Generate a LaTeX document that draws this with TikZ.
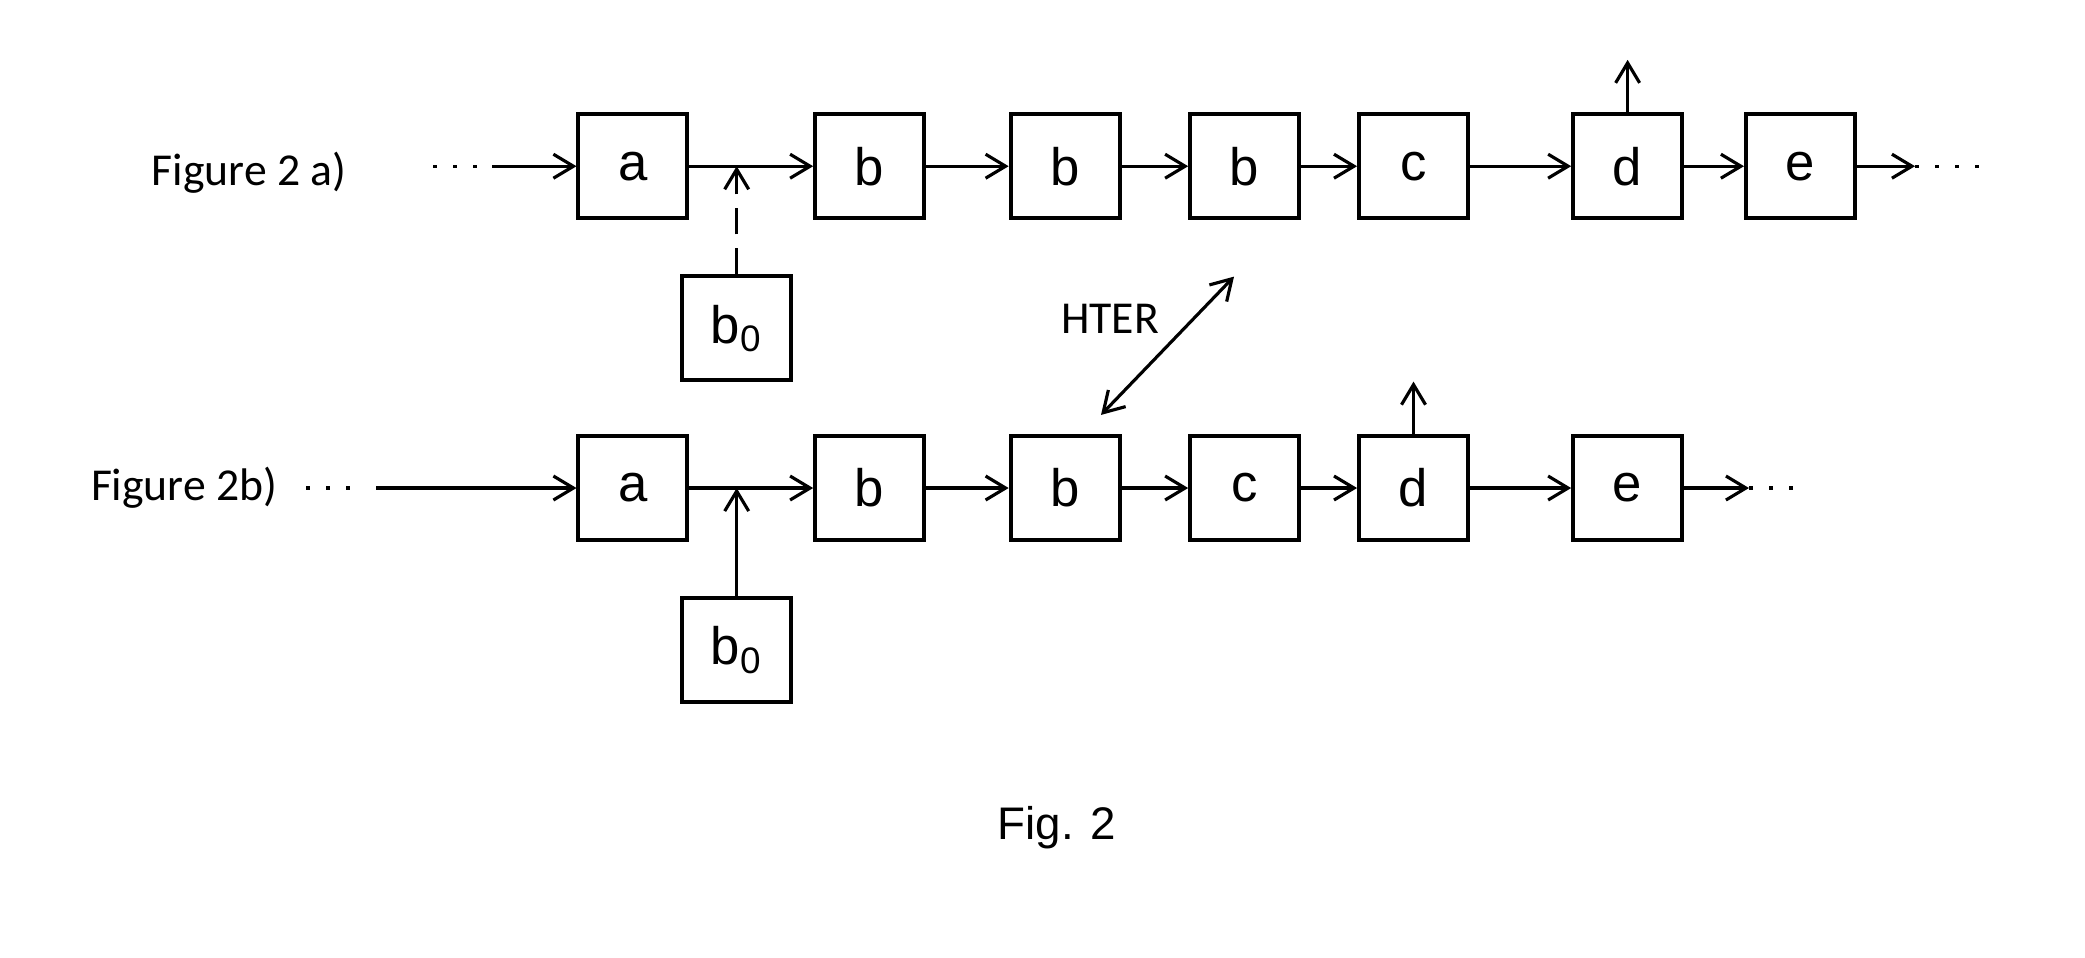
\documentclass[tikz,border=0pt]{standalone}
\usepackage{fontspec}
\setmainfont{Liberation Sans}
\newfontfamily\carlito{Carlito}
\usetikzlibrary{arrows.meta}

\tikzset{
  blk/.style={draw,line width=1.1pt,minimum width=1.09cm,minimum height=1.04cm,inner sep=0pt,font=\fontsize{15}{18}\selectfont},
  lbl/.style={font=\carlito\fontsize{13}{16}\selectfont,inner sep=0pt},
  lead/.style={line width=0.9pt,dash pattern=on 1.2pt off 4.5pt},
}

\begin{document}
\begin{tikzpicture}[>={Straight Barb[length=2mm,width=2.4mm]},line width=0.9pt]
  \useasboundingbox (0,0) rectangle (20.85,-9.57);
  % Figure 2 a)
  \node[lbl,anchor=east] at (3.48,-1.73) (labA) {Figure 2 a)};
  \node[blk] at (6.329,-1.662) (aA) {a};
  \node[blk] at (8.696,-1.662) (bA1) {b};
  \node[blk] at (10.651,-1.662) (bA2) {b};
  \node[blk] at (12.446,-1.662) (bA3) {b};
  \node[blk] at (14.135,-1.662) (cA) {c};
  \node[blk] at (16.276,-1.662) (dA) {d};
  \node[blk] at (18.004,-1.662) (eA) {e};
  \node[blk] at (7.367,-3.284) (bzA) {b\textsubscript{0}};
  \coordinate (inA) at (4.92,-1.662);
  \coordinate (dotsA) at (4.33,-1.662);
  \coordinate (outA) at (19.15,-1.662);
  \coordinate (endA) at (19.82,-1.662);
  \coordinate (upA) at (16.276,-0.598);
  \draw[lead] (dotsA) -- (inA);
  \draw[->] (inA) -- (aA);
  \draw[->] (aA) -- (bA1);
  \draw[->] (bA1) -- (bA2);
  \draw[->] (bA2) -- (bA3);
  \draw[->] (bA3) -- (cA);
  \draw[->] (cA) -- (dA);
  \draw[->] (dA) -- (eA);
  \draw[->] (eA) -- (outA);
  \draw[lead] (outA) -- (endA);
  \draw[->] (dA.north) -- (upA);
  \draw[->,dash pattern=on 2.6mm off 1.4mm] (bzA.north) -- (bzA.north |- aA.east);

  % Figure 2b)
  \node[lbl,anchor=east] at (2.79,-4.88) (labB) {Figure 2b)};
  \node[blk] at (6.329,-4.88) (aB) {a};
  \node[blk] at (8.696,-4.88) (bB1) {b};
  \node[blk] at (10.651,-4.88) (bB2) {b};
  \node[blk] at (12.446,-4.88) (cB) {c};
  \node[blk] at (14.135,-4.88) (dB) {d};
  \node[blk] at (16.276,-4.88) (eB) {e};
  \node[blk] at (7.367,-6.502) (bzB) {b\textsubscript{0}};
  \coordinate (dotsB) at (3.06,-4.88);
  \coordinate (inB) at (3.76,-4.88);
  \coordinate (outB) at (17.49,-4.88);
  \coordinate (endB) at (18.08,-4.88);
  \coordinate (upB) at (14.135,-3.816);
  \draw[lead] (dotsB) -- (3.60,-4.88);
  \draw[->] (inB) -- (aB);
  \draw[->] (aB) -- (bB1);
  \draw[->] (bB1) -- (bB2);
  \draw[->] (bB2) -- (cB);
  \draw[->] (cB) -- (dB);
  \draw[->] (dB) -- (eB);
  \draw[->] (eB) -- (outB);
  \draw[lead] (outB) -- (endB);
  \draw[->] (dB.north) -- (upB);
  \draw[->] (bzB.north) -- (bzB.north |- aB.east);

  % HTER
  \node[lbl] at (11.10,-3.19) (hter) {HTER};
  \coordinate (hterLo) at (11.01,-4.149);
  \coordinate (hterHi) at (12.34,-2.766);
  \draw[<->] (hterLo) -- (hterHi);

  \node[font=\fontsize{13}{16}\selectfont] at (10.57,-8.28) (cap) {Fig. 2};
\end{tikzpicture}
\end{document}
